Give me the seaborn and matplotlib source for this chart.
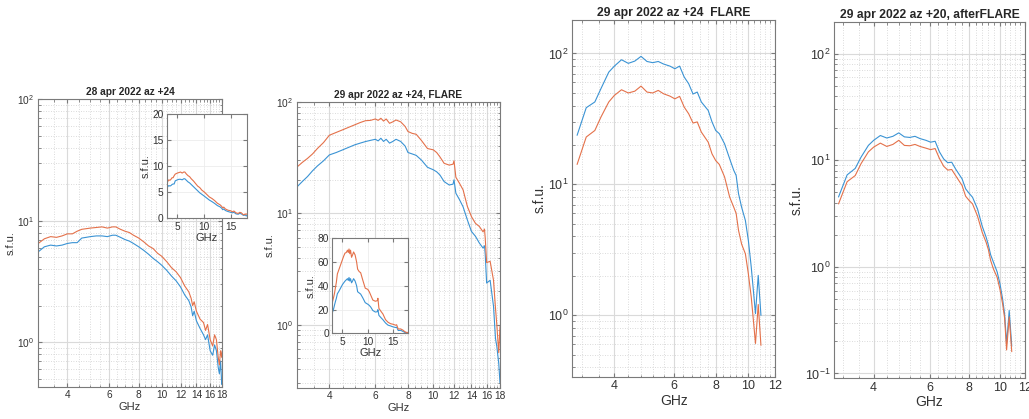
import matplotlib
matplotlib.use('Agg')
import matplotlib.pyplot as plt
import numpy as np
import pandas as pd
import seaborn as sns
from matplotlib.ticker import FixedLocator, MultipleLocator, NullFormatter, FuncFormatter, LogLocator

sns.set_style('ticks')
plt.rcParams['font.family'] = ['Liberation Sans', 'DejaVu Sans']
plt.rcParams['mathtext.fontset'] = 'custom'
plt.rcParams['mathtext.rm'] = 'Liberation Sans'

BLUE = '#3a93d4'
ORANGE = '#e4714a'

# 28 apr 2022 az +24
f_28 = [3.0, 3.2, 3.4, 3.6, 3.8, 4.0, 4.2, 4.4, 4.6, 4.8, 5.0, 5.3, 5.6, 5.9, 6.2, 6.4, 6.7,
        7.0, 7.3, 7.6, 8.0, 8.4, 8.8, 9.2, 9.6, 10.0, 10.5, 11.0, 11.5, 12.0, 12.5, 13.0,
        13.3, 13.5, 13.7, 14.0, 14.5, 15.0, 15.3, 15.6, 16.0, 16.4, 16.7, 17.0, 17.3, 17.5,
        17.7, 17.9, 18.0]
orange_28 = [6.45, 7.1, 7.4, 7.3, 7.5, 7.8, 7.8, 8.2, 8.5, 8.6, 8.7, 8.8, 8.9, 8.7, 8.9, 8.9, 8.5,
             8.2, 8.0, 7.6, 7.2, 6.7, 6.2, 5.9, 5.4, 5.1, 4.6, 4.1, 3.8, 3.4, 2.9, 2.6,
             2.3, 2.0, 2.15, 1.8, 1.55, 1.45, 1.25, 1.4, 1.05, 0.93, 1.15, 1.05, 0.75, 0.65,
             0.85, 0.75, 0.85]
blue_28 = [5.5, 6.1, 6.3, 6.2, 6.3, 6.5, 6.6, 6.6, 7.2, 7.3, 7.4, 7.5, 7.5, 7.4, 7.6, 7.6, 7.3,
           7.0, 6.8, 6.5, 6.1, 5.7, 5.3, 4.9, 4.6, 4.3, 3.9, 3.5, 3.2, 2.85, 2.45, 2.2,
           1.95, 1.65, 1.8, 1.5, 1.3, 1.15, 1.05, 1.15, 0.85, 0.78, 0.95, 0.85, 0.62, 0.55,
           0.7, 0.45, 0.5]

# 29 apr 2022 az +24, FLARE (3-18 GHz)
f_29a = [3.0, 3.15, 3.3, 3.45, 3.6, 3.8, 4.0, 4.25, 4.5, 4.75, 5.0, 5.25, 5.5, 5.75, 6.0, 6.15,
         6.3, 6.45, 6.6, 6.8, 7.0, 7.2, 7.5, 7.8, 8.0, 8.3, 8.6, 9.0, 9.5, 10.0, 10.3, 10.6,
         11.0, 11.5, 11.9, 12.0, 12.2, 12.6, 13.0, 13.5, 14.0, 14.5, 15.0, 15.5, 15.7, 15.8,
         16.0, 16.5, 17.0, 17.3, 17.5, 17.8, 18.0]
orange_29a = [25.8, 28.5, 31, 34, 38, 43, 50, 53, 56, 59, 62, 65, 67.5, 68, 70, 68,
              71, 67, 70, 64, 66, 68.5, 66, 60, 54, 52, 51, 45, 38, 37, 35, 32,
              28, 27, 27.5, 29.5, 21, 18.5, 16.2, 11.5, 9.3, 8.1, 7.6, 6.8, 7.2, 6.0,
              3.6, 3.7, 2.5, 1.4, 1.0, 0.56, 0.96]
blue_29a = [17.1, 19.2, 21.3, 24, 26.5, 29.5, 33.3, 35, 37, 39, 41, 42.5, 43.9, 45, 46, 44.5,
            47, 44, 46, 42.5, 44, 46, 44, 40, 35, 34, 33, 30, 25.8, 24.5, 23.5, 22,
            19.2, 17.9, 18.2, 19.9, 15.1, 13.2, 11.4, 8.7, 6.85, 6.2, 5.4, 4.86, 5.1, 4.3,
            2.36, 2.5, 1.46, 0.75, 0.64, 0.45, 0.30]

# 29 apr 2022, 3-11 GHz (FLARE and afterFLARE)
f_29b = [3.1, 3.3, 3.5, 3.65, 3.85, 4.0, 4.2, 4.4, 4.6, 4.8, 5.0, 5.2, 5.4, 5.6, 5.85, 6.05,
         6.25, 6.45, 6.65, 6.85, 7.05, 7.25, 7.6, 7.8, 8.0, 8.2, 8.5, 8.8, 9.05, 9.2, 9.35,
         9.55, 9.8, 10.0, 10.2, 10.35, 10.5, 10.7, 10.9]
blue_flare = [23.7, 38.5, 42.6, 53.9, 72, 80, 89.5, 84, 87.4, 95, 86.8, 85, 86.8, 83, 80, 76.4,
              80, 66, 58.7, 49, 50.7, 42.6, 36.7, 30, 25.8, 24.4, 20.4, 15.7, 12.8, 11.7, 8.5,
              6.7, 5.3, 3.74, 2.34, 1.55, 1.03, 2.02, 1.0]
orange_flare = [14.2, 23, 25.8, 32.7, 42.6, 47.8, 52.8, 49.9, 51.5, 56.3, 50.7, 49.9, 52.2, 49.2,
                47.2, 45, 47, 38.9, 34.6, 29.4, 30, 25.1, 21, 17.1, 15.2, 14.2, 11.4, 8, 6.7,
                6.0, 4.46, 3.5, 2.95, 2.08, 1.38, 0.92, 0.61, 1.21, 0.59]
blue_after = [4.53, 7.3, 8.4, 10.7, 13.8, 15.4, 17.1, 16.2, 16.8, 18.1, 16.6, 16.4, 16.8, 16.0,
              15.4, 14.8, 15.1, 12.0, 10.3, 9.5, 9.6, 8.3, 6.7, 5.4, 4.9, 4.5, 3.5, 2.4, 1.9,
              1.6, 1.3, 1.1, 0.9, 0.7, 0.5, 0.36, 0.19, 0.39, 0.18]
orange_after = [3.9, 6.3, 7.2, 9.3, 12, 13.3, 14.5, 13.5, 14.1, 15.4, 13.8, 13.7, 14.1, 13.5,
                13.0, 12.6, 12.9, 10.4, 8.8, 8.1, 8.2, 7.2, 5.8, 4.6, 4.2, 3.9, 3.0, 2.1, 1.7,
                1.45, 1.15, 0.95, 0.8, 0.62, 0.45, 0.33, 0.166, 0.34, 0.16]

titles = ['28 apr 2022 az +24', '29 apr 2022 az +24, FLARE',
          '29 apr 2022 az +24  FLARE', '29 apr 2022 az +20, afterFLARE']


def draw(ax, f, blue, orange):
    for vals, col in [(blue, BLUE), (orange, ORANGE)]:
        sns.lineplot(x=f, y=vals, ax=ax, color=col, linewidth=0.8, estimator=None, sort=False)


def style(ax, fs_tick, fs_lab, fs_title, title=None, logy=True, xticks=None, xlim=(3, 18), minor=0.4):
    if logy:
        ax.set_xscale('log')
        ax.set_yscale('log')
        ax.xaxis.set_major_locator(FixedLocator(xticks))
        ax.xaxis.set_major_formatter(FuncFormatter(lambda v, p: '%d' % round(v)))
        ax.xaxis.set_minor_locator(MultipleLocator(minor))
        ax.xaxis.set_minor_formatter(NullFormatter())
        ax.yaxis.set_minor_locator(LogLocator(base=10, subs=np.arange(2, 10)))
        ax.yaxis.set_minor_formatter(NullFormatter())
        ax.grid(which='major', color='#dadada', lw=0.8, ls='-')
        ax.grid(which='minor', color='#cfcfcf', lw=0.6, ls=(0, (1, 2)))
    else:
        ax.grid(which='major', color='#ececec', lw=0.6, ls='-')
    ax.set_xlim(*xlim)
    ax.set_axisbelow(True)
    for s in ax.spines.values():
        s.set_color('#7a7a7a')
        s.set_linewidth(0.8)
    ax.tick_params(which='both', direction='in', top=True, right=True, color='#7a7a7a',
                   labelsize=fs_tick, labelcolor='#333333', pad=2.5)
    ax.tick_params(which='major', length=3)
    ax.tick_params(which='minor', length=1.8)
    ax.set_xlabel('GHz', fontsize=fs_lab, color='#333333', labelpad=1)
    ax.set_ylabel('s.f.u.', fontsize=fs_lab, color='#333333', labelpad=1)
    if title:
        ax.set_title(title, fontsize=fs_title, fontweight='bold', pad=3)


W, H = 1029, 419
fig = plt.figure(figsize=(W / 100, H / 100), dpi=100)


def box(l, r, t, b):
    return [l / W, 1 - b / H, (r - l) / W, (b - t) / H]


ax1 = fig.add_axes(box(37.7, 222.3, 99.3, 386.7))
draw(ax1, f_28, blue_28, orange_28)
style(ax1, 7.3, 8, 7.3, titles[0], xticks=[4, 6, 8, 10, 12, 14, 16, 18], minor=0.5)
ax1.set_ylim(0.43, 100)

ins1 = fig.add_axes(box(166.7, 246.7, 114.3, 218.3))
draw(ins1, f_28, blue_28, orange_28)
style(ins1, 7.3, 8, 7.3, logy=False)
ins1.set_ylim(0, 20)
ins1.set_xticks([5, 10, 15])
ins1.set_yticks([0, 5, 10, 15, 20])

ax2 = fig.add_axes(box(296.7, 500, 101.7, 388))
draw(ax2, f_29a, blue_29a, orange_29a)
style(ax2, 7.3, 8, 7.3, titles[1], xticks=[4, 6, 8, 10, 12, 14, 16, 18], minor=0.5)
ax2.set_ylim(0.27, 100)

ins2 = fig.add_axes(box(332.3, 408.3, 238.3, 333.3))
draw(ins2, f_29a, blue_29a, orange_29a)
style(ins2, 7.3, 8, 7.3, logy=False)
ins2.set_ylim(0, 80)
ins2.set_xticks([5, 10, 15])
ins2.set_yticks([0, 20, 40, 60, 80])

ax3 = fig.add_axes(box(572.3, 775, 20, 376.7))
draw(ax3, f_29b, blue_flare, orange_flare)
style(ax3, 9, 10, 8.7, titles[2], xticks=[4, 6, 8, 10, 12], xlim=(3, 12))
ax3.set_ylim(0.34, 180)

ax4 = fig.add_axes(box(834, 1025, 21.7, 378.3))
draw(ax4, f_29b, blue_after, orange_after)
style(ax4, 9, 10, 8.7, titles[3], xticks=[4, 6, 8, 10, 12], xlim=(3, 12))
ax4.set_ylim(0.09, 200)

fig.savefig('out.png', dpi=100)
